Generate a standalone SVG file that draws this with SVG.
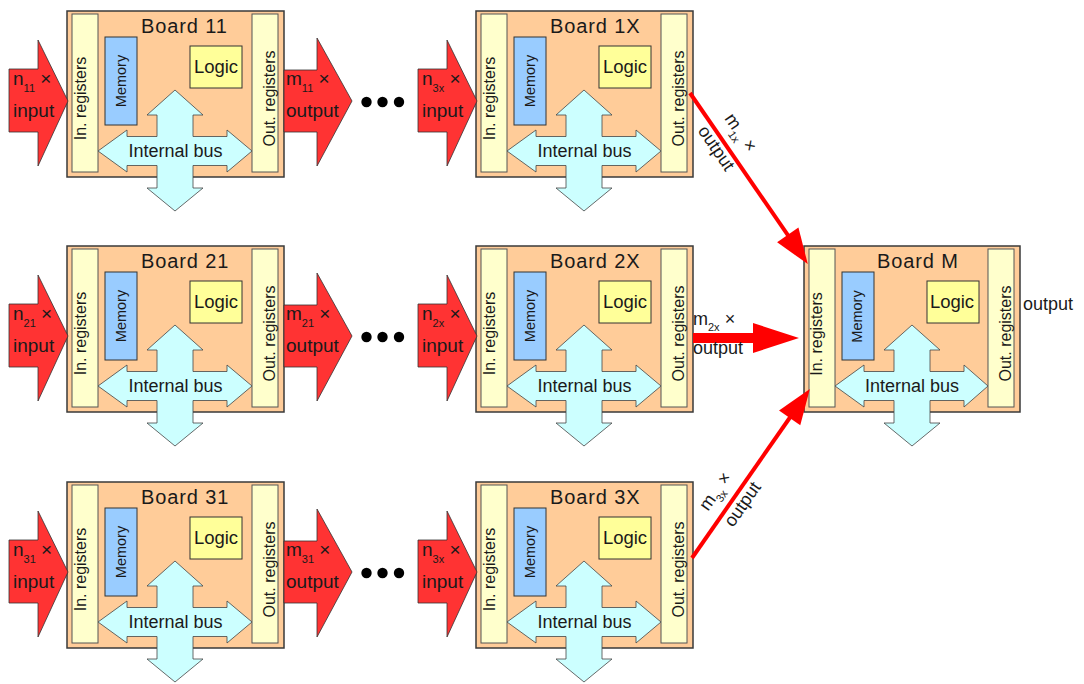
<svg xmlns="http://www.w3.org/2000/svg" width="1084" height="684" viewBox="0 0 1084 684">
<defs>
<style>
text{font-family:"Liberation Sans",Arial,sans-serif;fill:#1a1a1a}
.board{fill:#FFCC99;stroke:#3a3a3a;stroke-width:1.5}
.reg{fill:#FFFFCC;stroke:#555;stroke-width:1}
.mem{fill:#99CCFF;stroke:#333;stroke-width:1}
.logic{fill:#FFFF99;stroke:#333;stroke-width:1}
.bus{fill:#CCFFFF;stroke:#444;stroke-width:0.8}
.title{font-size:20px;letter-spacing:0.9px}
.lg{font-size:18.5px;text-anchor:middle}
.bt{font-size:18px;text-anchor:middle}
.vt{font-size:16px;text-anchor:middle}
.mt{font-size:14.5px;text-anchor:middle}
.al{font-size:19px}
.cl{font-size:18px}
.sub{font-size:11px}
.blk{fill:#FF3333;stroke:#333;stroke-width:0.8}
.red{fill:#FF0000}
.ln{stroke:#FF0000;stroke-width:4;fill:none}
.dot{fill:#000}
</style>
<marker id="head" markerUnits="userSpaceOnUse" markerWidth="40" markerHeight="30" refX="0" refY="0" viewBox="-3 -12 34 24" orient="auto">
<path d="M-2,-11 L28,0 L-2,11 Z" fill="#FF0000"/>
</marker>
</defs>

<g id="board-11" transform="translate(67,11)">
<rect class="board" x="0" y="0" width="217" height="166"/>
<rect class="reg" x="5" y="3" width="26" height="158"/>
<rect class="reg" x="185" y="3" width="26" height="158"/>
<rect class="mem" x="38" y="26" width="32" height="88"/>
<rect class="logic" x="123" y="35" width="52" height="42"/>
<path class="bus" d="M108,79 L136,104 L126,104 L126,125.5 L160,125.5 L160,119 L185,140 L160,161 L160,154.5 L126,154.5 L126,177 L136,177 L108,200 L80,177 L90,177 L90,154.5 L60,154.5 L60,161 L31,140 L60,119 L60,125.5 L90,125.5 L90,104 L80,104 Z"/>
<text class="title" x="74" y="21.7">Board 11</text>
<text class="lg" x="149" y="62">Logic</text>
<text class="bt" x="108.5" y="146.3">Internal bus</text>
<text class="vt" transform="translate(18.5,87.5) rotate(-90)">In. registers</text>
<text class="vt" transform="translate(208,87.5) rotate(-90)">Out. registers</text>
<text class="mt" transform="translate(58.5,70) rotate(-90)">Memory</text>
</g>

<g id="board-21" transform="translate(67,246)">
<rect class="board" x="0" y="0" width="217" height="166"/>
<rect class="reg" x="5" y="3" width="26" height="158"/>
<rect class="reg" x="185" y="3" width="26" height="158"/>
<rect class="mem" x="38" y="26" width="32" height="88"/>
<rect class="logic" x="123" y="35" width="52" height="42"/>
<path class="bus" d="M108,79 L136,104 L126,104 L126,125.5 L160,125.5 L160,119 L185,140 L160,161 L160,154.5 L126,154.5 L126,177 L136,177 L108,200 L80,177 L90,177 L90,154.5 L60,154.5 L60,161 L31,140 L60,119 L60,125.5 L90,125.5 L90,104 L80,104 Z"/>
<text class="title" x="74" y="21.7">Board 21</text>
<text class="lg" x="149" y="62">Logic</text>
<text class="bt" x="108.5" y="146.3">Internal bus</text>
<text class="vt" transform="translate(18.5,87.5) rotate(-90)">In. registers</text>
<text class="vt" transform="translate(208,87.5) rotate(-90)">Out. registers</text>
<text class="mt" transform="translate(58.5,70) rotate(-90)">Memory</text>
</g>

<g id="board-31" transform="translate(67,482)">
<rect class="board" x="0" y="0" width="217" height="166"/>
<rect class="reg" x="5" y="3" width="26" height="158"/>
<rect class="reg" x="185" y="3" width="26" height="158"/>
<rect class="mem" x="38" y="26" width="32" height="88"/>
<rect class="logic" x="123" y="35" width="52" height="42"/>
<path class="bus" d="M108,79 L136,104 L126,104 L126,125.5 L160,125.5 L160,119 L185,140 L160,161 L160,154.5 L126,154.5 L126,177 L136,177 L108,200 L80,177 L90,177 L90,154.5 L60,154.5 L60,161 L31,140 L60,119 L60,125.5 L90,125.5 L90,104 L80,104 Z"/>
<text class="title" x="74" y="21.7">Board 31</text>
<text class="lg" x="149" y="62">Logic</text>
<text class="bt" x="108.5" y="146.3">Internal bus</text>
<text class="vt" transform="translate(18.5,87.5) rotate(-90)">In. registers</text>
<text class="vt" transform="translate(208,87.5) rotate(-90)">Out. registers</text>
<text class="mt" transform="translate(58.5,70) rotate(-90)">Memory</text>
</g>

<g id="board-1X" transform="translate(476,11)">
<rect class="board" x="0" y="0" width="217" height="166"/>
<rect class="reg" x="5" y="3" width="26" height="158"/>
<rect class="reg" x="185" y="3" width="26" height="158"/>
<rect class="mem" x="38" y="26" width="32" height="88"/>
<rect class="logic" x="123" y="35" width="52" height="42"/>
<path class="bus" d="M108,79 L136,104 L126,104 L126,125.5 L160,125.5 L160,119 L185,140 L160,161 L160,154.5 L126,154.5 L126,177 L136,177 L108,200 L80,177 L90,177 L90,154.5 L60,154.5 L60,161 L31,140 L60,119 L60,125.5 L90,125.5 L90,104 L80,104 Z"/>
<text class="title" x="74" y="21.7">Board 1X</text>
<text class="lg" x="149" y="62">Logic</text>
<text class="bt" x="108.5" y="146.3">Internal bus</text>
<text class="vt" transform="translate(18.5,87.5) rotate(-90)">In. registers</text>
<text class="vt" transform="translate(208,87.5) rotate(-90)">Out. registers</text>
<text class="mt" transform="translate(58.5,70) rotate(-90)">Memory</text>
</g>

<g id="board-2X" transform="translate(476,246)">
<rect class="board" x="0" y="0" width="217" height="166"/>
<rect class="reg" x="5" y="3" width="26" height="158"/>
<rect class="reg" x="185" y="3" width="26" height="158"/>
<rect class="mem" x="38" y="26" width="32" height="88"/>
<rect class="logic" x="123" y="35" width="52" height="42"/>
<path class="bus" d="M108,79 L136,104 L126,104 L126,125.5 L160,125.5 L160,119 L185,140 L160,161 L160,154.5 L126,154.5 L126,177 L136,177 L108,200 L80,177 L90,177 L90,154.5 L60,154.5 L60,161 L31,140 L60,119 L60,125.5 L90,125.5 L90,104 L80,104 Z"/>
<text class="title" x="74" y="21.7">Board 2X</text>
<text class="lg" x="149" y="62">Logic</text>
<text class="bt" x="108.5" y="146.3">Internal bus</text>
<text class="vt" transform="translate(18.5,87.5) rotate(-90)">In. registers</text>
<text class="vt" transform="translate(208,87.5) rotate(-90)">Out. registers</text>
<text class="mt" transform="translate(58.5,70) rotate(-90)">Memory</text>
</g>

<g id="board-3X" transform="translate(476,482)">
<rect class="board" x="0" y="0" width="217" height="166"/>
<rect class="reg" x="5" y="3" width="26" height="158"/>
<rect class="reg" x="185" y="3" width="26" height="158"/>
<rect class="mem" x="38" y="26" width="32" height="88"/>
<rect class="logic" x="123" y="35" width="52" height="42"/>
<path class="bus" d="M108,79 L136,104 L126,104 L126,125.5 L160,125.5 L160,119 L185,140 L160,161 L160,154.5 L126,154.5 L126,177 L136,177 L108,200 L80,177 L90,177 L90,154.5 L60,154.5 L60,161 L31,140 L60,119 L60,125.5 L90,125.5 L90,104 L80,104 Z"/>
<text class="title" x="74" y="21.7">Board 3X</text>
<text class="lg" x="149" y="62">Logic</text>
<text class="bt" x="108.5" y="146.3">Internal bus</text>
<text class="vt" transform="translate(18.5,87.5) rotate(-90)">In. registers</text>
<text class="vt" transform="translate(208,87.5) rotate(-90)">Out. registers</text>
<text class="mt" transform="translate(58.5,70) rotate(-90)">Memory</text>
</g>

<g id="board-M" transform="translate(804,246)">
<rect class="board" x="0" y="0" width="216" height="166"/>
<rect class="reg" x="5" y="3" width="26" height="158"/>
<rect class="reg" x="184" y="3" width="26" height="158"/>
<rect class="mem" x="38" y="26" width="32" height="88"/>
<rect class="logic" x="123" y="35" width="52" height="42"/>
<path class="bus" d="M108,79 L136,104 L126,104 L126,125.5 L160,125.5 L160,119 L184,140 L160,161 L160,154.5 L126,154.5 L126,177 L136,177 L108,200 L80,177 L90,177 L90,154.5 L60,154.5 L60,161 L31,140 L60,119 L60,125.5 L90,125.5 L90,104 L80,104 Z"/>
<text class="title" x="73" y="21.7">Board M</text>
<text class="lg" x="148" y="62">Logic</text>
<text class="bt" x="108" y="146.3">Internal bus</text>
<text class="vt" transform="translate(18,88) rotate(-90)">In. registers</text>
<text class="vt" transform="translate(207,87.5) rotate(-90)">Out. registers</text>
<text class="mt" transform="translate(58,70.5) rotate(-90)">Memory</text>
</g>

<g id="connectors">
<polygon class="blk" points="9,69 38,69 38,40 68,101 38,166 38,132 9,132"/>
<polygon class="blk" points="284,70 317,70 317,38 352,101 317,166 317,132 284,132"/>
<polygon class="blk" points="418,69 447,69 447,40 477,101 447,166 447,132 418,132"/>
<polygon class="blk" points="9,304 38,304 38,275 68,336 38,401 38,367 9,367"/>
<polygon class="blk" points="284,305 317,305 317,273 352,336 317,401 317,367 284,367"/>
<polygon class="blk" points="418,304 447,304 447,275 477,336 447,401 447,367 418,367"/>
<polygon class="blk" points="9,540 38,540 38,511 68,572 38,637 38,603 9,603"/>
<polygon class="blk" points="284,541 317,541 317,509 352,572 317,637 317,603 284,603"/>
<polygon class="blk" points="418,540 447,540 447,511 477,572 447,637 447,603 418,603"/>
<line class="ln" x1="690" y1="93" x2="789.1" y2="236.9" marker-end="url(#head)"/>
<polygon class="red" points="693,333 753,333 753,323 799,338 753,353 753,343 693,343"/>
<line class="ln" x1="692" y1="558" x2="791" y2="416" marker-end="url(#head)"/>
</g>

<g id="ellipses">
<circle class="dot" cx="366.5" cy="102" r="5.2"/>
<circle class="dot" cx="382.5" cy="102" r="5.2"/>
<circle class="dot" cx="399" cy="102" r="5.2"/>
<circle class="dot" cx="366.5" cy="337" r="5.2"/>
<circle class="dot" cx="382.5" cy="337" r="5.2"/>
<circle class="dot" cx="399" cy="337" r="5.2"/>
<circle class="dot" cx="366.5" cy="573" r="5.2"/>
<circle class="dot" cx="382.5" cy="573" r="5.2"/>
<circle class="dot" cx="399" cy="573" r="5.2"/>
</g>

<g id="labels">
<text class="al" x="13" y="85">n<tspan class="sub" dy="7">11</tspan><tspan dy="-7"> ×</tspan></text>
<text class="al" x="13" y="117">input</text>
<text class="al" x="286" y="85">m<tspan class="sub" dy="7">11</tspan><tspan dy="-7"> ×</tspan></text>
<text class="al" x="286" y="117">output</text>
<text class="al" x="422" y="85">n<tspan class="sub" dy="7">3x</tspan><tspan dy="-7"> ×</tspan></text>
<text class="al" x="422" y="117">input</text>

<text class="al" x="13" y="320">n<tspan class="sub" dy="7">21</tspan><tspan dy="-7"> ×</tspan></text>
<text class="al" x="13" y="352">input</text>
<text class="al" x="286" y="320">m<tspan class="sub" dy="7">21</tspan><tspan dy="-7"> ×</tspan></text>
<text class="al" x="286" y="352">output</text>
<text class="al" x="422" y="320">n<tspan class="sub" dy="7">2x</tspan><tspan dy="-7"> ×</tspan></text>
<text class="al" x="422" y="352">input</text>

<text class="al" x="13" y="556">n<tspan class="sub" dy="7">31</tspan><tspan dy="-7"> ×</tspan></text>
<text class="al" x="13" y="588">input</text>
<text class="al" x="286" y="556">m<tspan class="sub" dy="7">31</tspan><tspan dy="-7"> ×</tspan></text>
<text class="al" x="286" y="588">output</text>
<text class="al" x="422" y="556">n<tspan class="sub" dy="7">3x</tspan><tspan dy="-7"> ×</tspan></text>
<text class="al" x="422" y="588">input</text>

<text class="cl" x="693" y="325">m<tspan class="sub" dy="6">2x</tspan><tspan dy="-6"> ×</tspan></text>
<text class="cl" x="693" y="354">output</text>

<text class="cl" transform="translate(713,126) rotate(55.4)" x="0" y="-13.3">m<tspan class="sub" dy="6">1x</tspan><tspan dy="-6"> ×</tspan></text>
<text class="cl" transform="translate(713,126) rotate(55.4)" x="-5" y="15.7">output</text>

<text class="cl" transform="translate(719.4,518.6) rotate(-55.1)" x="-1" y="-13.2">m<tspan class="sub" dy="6">3x</tspan><tspan dy="-6"> ×</tspan></text>
<text class="cl" transform="translate(719.4,518.6) rotate(-55.1)" x="0" y="16.6">output</text>

<text class="cl" x="1023" y="310">output</text>
</g>
</svg>
